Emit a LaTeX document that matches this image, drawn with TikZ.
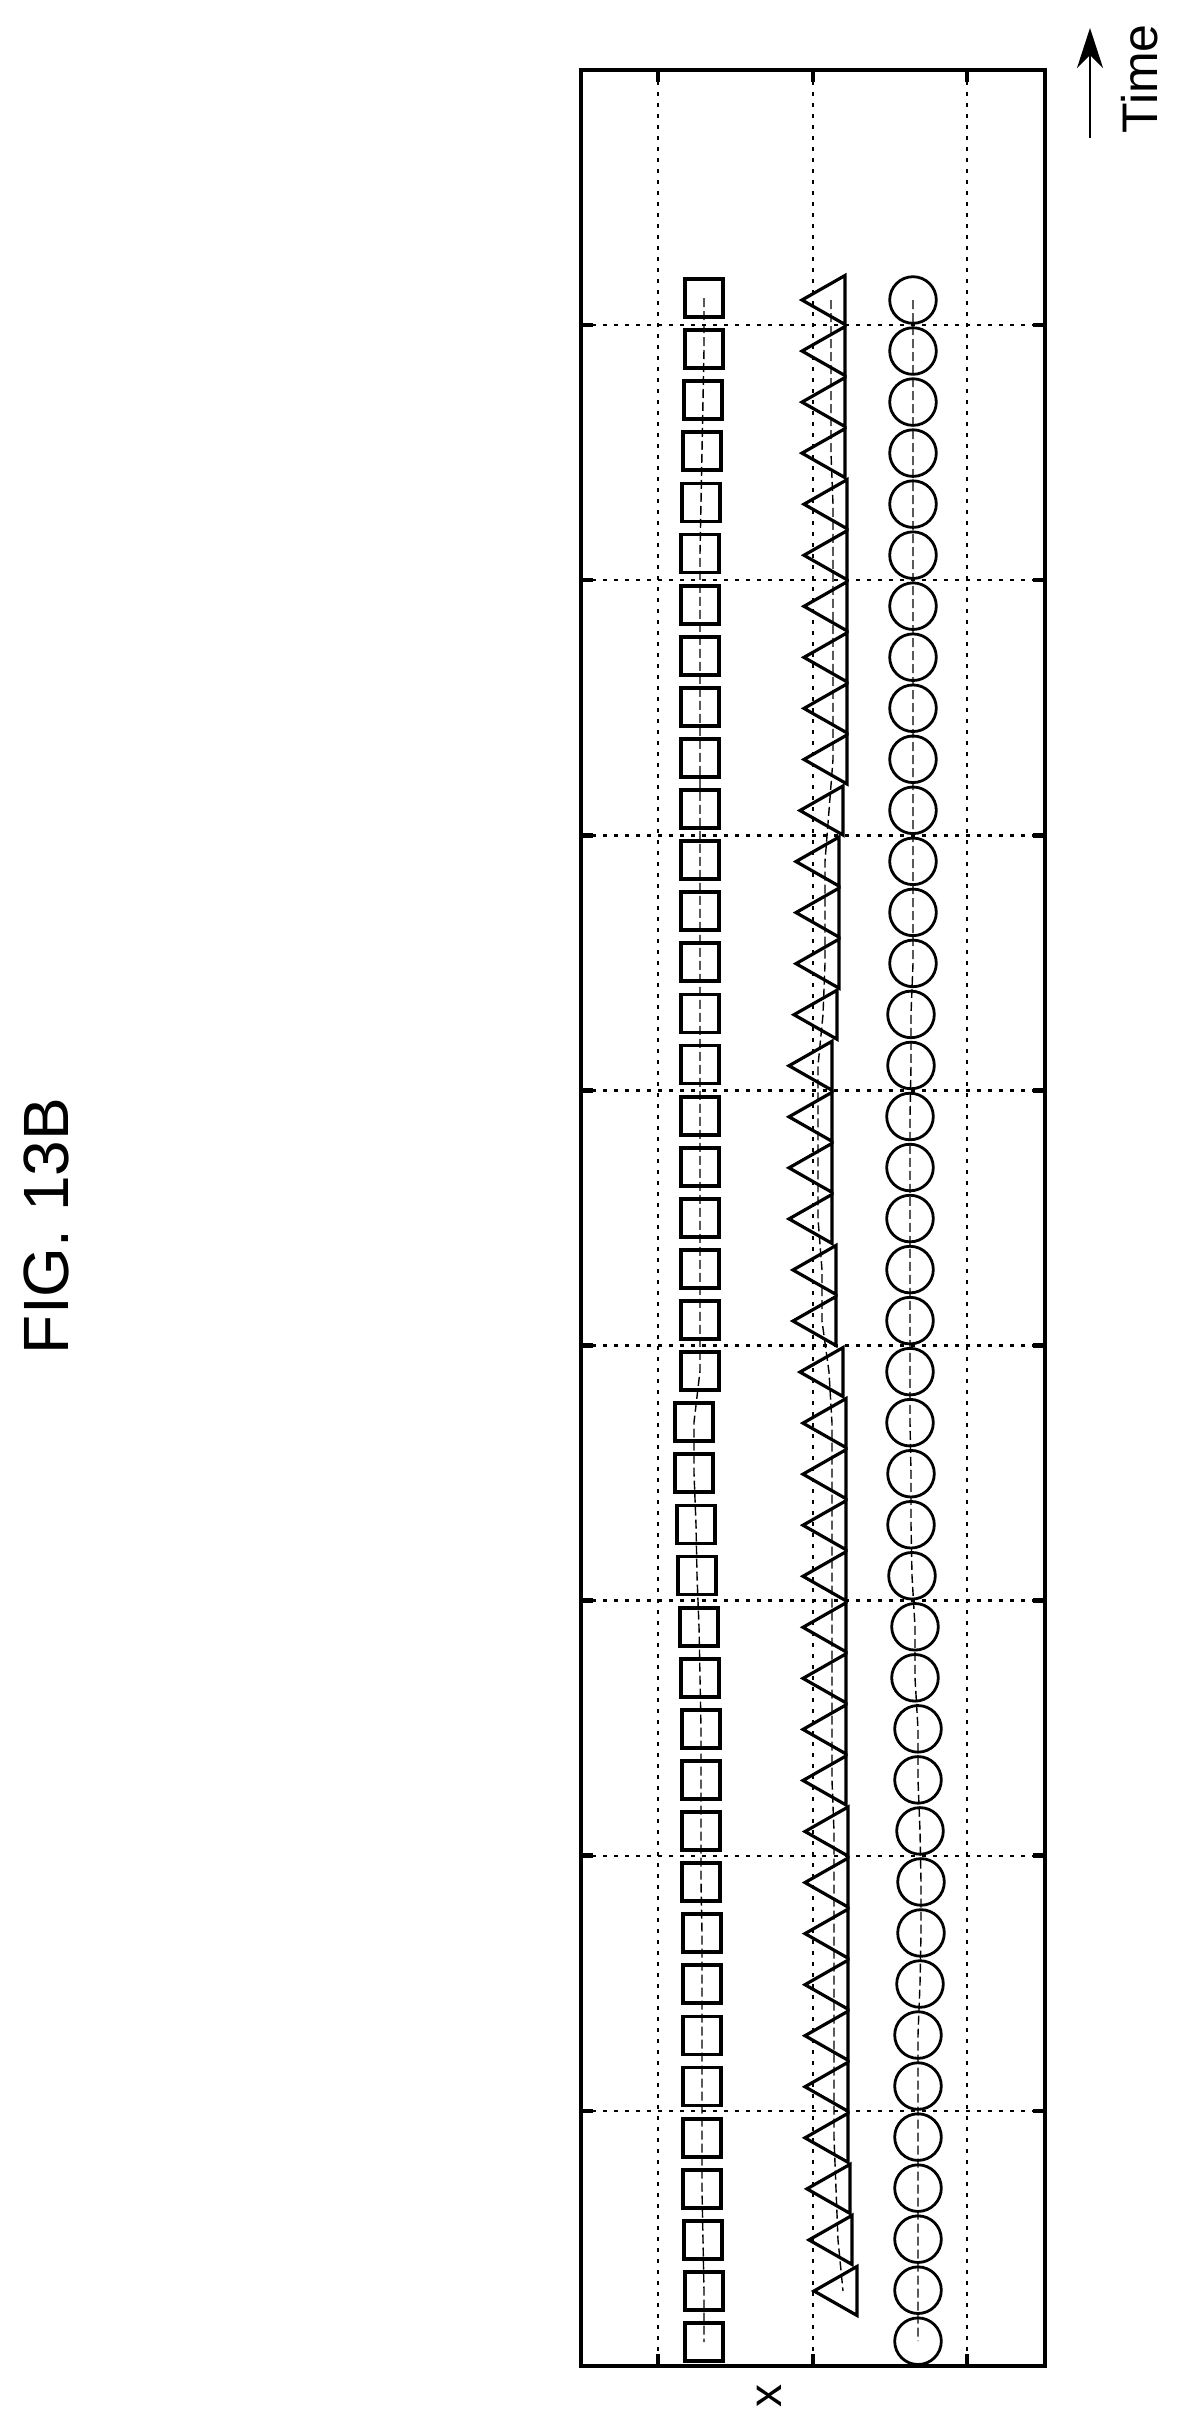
\documentclass[tikz,border=0pt]{standalone}
\usepackage{fontspec}
\setmainfont{Liberation Sans}
\usetikzlibrary{arrows.meta}
\begin{document}
\begin{tikzpicture}[x=1pt,y=-1pt,
  frame/.style={line width=3.6pt},
  grid/.style={line width=2.4pt,dash pattern=on 4pt off 7pt},
  tick/.style={line width=4.5pt},
  sq/.style={line width=3.8pt},
  tri/.style={line width=3.2pt,line join=miter},
  circ/.style={line width=2.8pt},
  cline/.style={line width=1.4pt,dash pattern=on 9pt off 4pt}]
\useasboundingbox (0,0) rectangle (1177,2431);
% grid
\foreach \gx in {658,813,967} \draw[grid] (\gx,70) -- (\gx,2366);
\foreach \k in {1,...,8} \draw[grid] (581,70+255.1*\k) -- (1045,70+255.1*\k);
% frame
\draw[frame] (581,70) rectangle (1045,2366);
\foreach \gx in {658,813,967} {\draw[tick] (\gx,70) -- (\gx,82); \draw[tick] (\gx,2366) -- (\gx,2354);}
\foreach \k in {1,...,8} {\draw[tick] (581,70+255.1*\k) -- (593,70+255.1*\k); \draw[tick] (1045,70+255.1*\k) -- (1033,70+255.1*\k);}
% squares
\def\sqx{704,704,703,702,701,700,700,700,700,700,700,700,700,700,700,700,700,700,700,700,700,700,694,694,696,697,699,700,701,701,701,701,702,702,702,702,702,702,703,704,704}
\draw[cline] \foreach[count=\i from 0] \xx in \sqx {\ifnum\i=0 (\xx,298)\else -- (\xx,298+51.1*\i)\fi};
\foreach[count=\i from 0] \xx in \sqx \draw[sq] (\xx-19,298+51.1*\i-19) rectangle (\xx+19,298+51.1*\i+19);
% triangles
\def\trx{845,845,845,845,847,847,847,847,847,847,843,839,839,839,837,832,832,832,832,836,836,843,846,846,846,846,846,846,846,846,848,848,848,848,848,848,848,850,852,857}
\draw[cline] \foreach[count=\i from 0] \xx in \trx {\ifnum\i=0 (\xx-14,300)\else -- (\xx-14,300+51.05*\i)\fi};
\foreach[count=\i from 0] \xx in \trx \draw[tri] (\xx,300+51.05*\i-24.5) -- (\xx-43,300+51.05*\i) -- (\xx,300+51.05*\i+24.5) -- cycle;
% circles
\def\cix{913,913,913,913,913,913,913,913,913,913,913,913,913,913,911,911,910,910,910,910,910,910,910,911,911,912,915,915,918,918,920,921,921,920,918,918,918,918,918,918,918}
\draw[cline] \foreach[count=\i from 0] \xx in \cix {\ifnum\i=0 (\xx,300)\else -- (\xx,300+51.03*\i)\fi};
\foreach[count=\i from 0] \xx in \cix \draw[circ] (\xx,300+51.03*\i) circle[radius=23.3];
% labels
\coordinate (tb) at (1090,138);
\coordinate (tt) at (1090,28);
\draw[line width=2.4pt,-{Stealth[length=40pt,width=26pt]}] (tb) -- (tt);
\node[rotate=90,font=\fontsize{50}{60}\selectfont,inner sep=0pt] (time) at (1140,79) {Time};
\node[rotate=90,font=\fontsize{46}{54}\selectfont,inner sep=0pt] (xlab) at (769,2396) {x};
\node[rotate=90,font=\fontsize{64}{76}\selectfont,inner sep=0pt] (fig) at (46,1226) {FIG. 13B};
\end{tikzpicture}
\end{document}
